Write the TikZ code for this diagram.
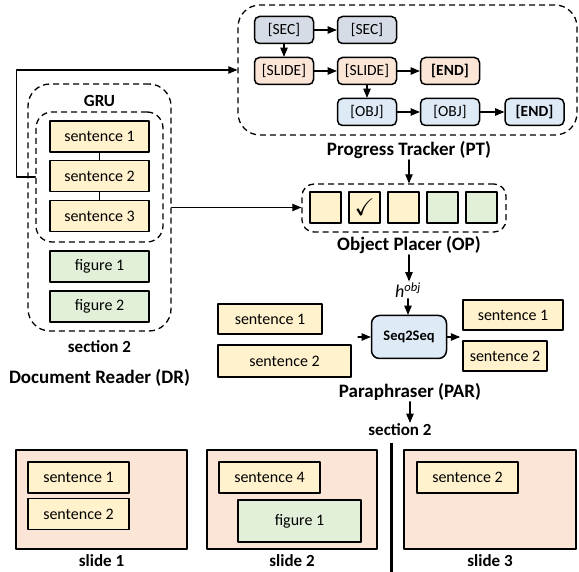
\documentclass[tikz,border=0pt]{standalone}
\usepackage{amssymb}
\usepackage{fontspec}
\setmainfont{Carlito}
\usetikzlibrary{arrows}
\definecolor{sentcol}{HTML}{FFF2CC}
\definecolor{figcol}{HTML}{E2F0D9}
\definecolor{seccol}{HTML}{D6DCE5}
\definecolor{slidecol}{HTML}{FBE5D6}
\definecolor{objcol}{HTML}{DEEBF7}

\begin{document}
\begin{tikzpicture}[line cap=round,line join=round,>=triangle 45,x=1pt,y=-1pt,
  box/.style={draw,line width=1.5pt,inner sep=0pt,font=\fontsize{16}{18}\selectfont},
  sent/.style={box,fill=sentcol,minimum width=99,minimum height=31},
  fig/.style={box,fill=figcol,minimum width=99,minimum height=31},
  tok/.style={box,rounded corners=5pt,minimum width=59,minimum height=27,font=\fontsize{15.5}{17}\selectfont},
  dashbox/.style={draw,line width=1.3pt,dash pattern=on 6pt off 4pt,line cap=butt},
  title/.style={font=\bfseries\fontsize{19}{21}\selectfont,inner sep=1pt},
  lab/.style={font=\bfseries\fontsize{17}{19}\selectfont,inner sep=1pt},
  conn/.style={line width=1.1pt}]
\useasboundingbox (0,0) rectangle (579,572);
% document reader
\node[dashbox,rounded corners=22pt,minimum width=143,minimum height=247] (gru) at (99.5,207.5) {};
\node[dashbox,rounded corners=16pt,minimum width=127,minimum height=130] (grp) at (99.5,177) {};
\node[lab] (gruname) at (99.5,101) {GRU};
\node[sent] (s1) at (99.5,136.5) {sentence 1};
\node[sent] (s2) at (99.5,176) {sentence 2};
\node[sent] (s3) at (99.5,216) {sentence 3};
\draw[conn] (s1) -- (s2) (s2) -- (s3);
\node[fig] (f1) at (99.5,266.5) {figure 1};
\node[fig] (f2) at (99.5,306.5) {figure 2};
\node[lab] (secname) at (99.5,347) {section 2};
\node[title] (drname) at (99.5,378) {Document Reader (DR)};
% progress tracker
\node[dashbox,rounded corners=22pt,minimum width=339,minimum height=130] (pt) at (407.5,70) {};
\node[tok,fill=seccol] (sec1) at (284,30) {[SEC]};
\node[tok,fill=seccol] (sec2) at (367,30) {[SEC]};
\node[tok,fill=slidecol] (slide1) at (284,71) {[SLIDE]};
\node[tok,fill=slidecol] (slide2) at (367,71) {[SLIDE]};
\node[tok,fill=slidecol] (end1) at (450,71) {\bfseries [END]};
\node[tok,fill=objcol] (obj1) at (367,112) {[OBJ]};
\node[tok,fill=objcol] (obj2) at (450,112) {[OBJ]};
\node[tok,fill=objcol] (end2) at (534.5,112) {\bfseries [END]};
\draw[conn,->] (sec1) -- (sec2);
\draw[conn,->] (sec1) -- (slide1);
\draw[conn,->] (slide1) -- (slide2);
\draw[conn,->] (slide2) -- (end1);
\draw[conn,->] (slide2) -- (obj1);
\draw[conn,->] (obj1) -- (obj2);
\draw[conn,->] (obj2) -- (end2);
\draw[conn,->] (grp.west) -- ++(-19,0) |- (pt.west);
\node[title] (ptname) at (409,150) {Progress Tracker (PT)};
% object placer
\node[dashbox,rounded corners=12pt,minimum width=204,minimum height=48] (op) at (404,208) {};
\foreach \i/\c/\t in {0/sentcol/,1/sentcol/$\checkmark$,2/sentcol/,3/figcol/,4/figcol/}
  \node[box,fill=\c,minimum width=31,minimum height=31,font=\fontsize{24}{24}\selectfont] (o\i) at (325.5+39*\i,207.5) {\t};
\draw[conn,->] (gru.east) -- (gru.east -| op.west);
\draw[conn,->] (ptname.south) -- (ptname.south |- op.north);
\node[title] (opname) at (409,245) {Object Placer (OP)};
\node[font=\fontsize{18}{20}\selectfont\itshape,inner sep=1pt] (hobj) at (408,290) {h\textsuperscript{obj}};
\draw[conn,->] (opname.south) -- (opname.south |- hobj.north);
% paraphraser
\node[box,rounded corners=8pt,fill=objcol,minimum width=75,minimum height=43,font=\bfseries\fontsize{14.5}{16}\selectfont] (seq) at (409,337) {Seq2Seq};
\draw[conn,->] (hobj.south) -- (hobj.south |- seq.north);
\node[box,fill=sentcol,minimum width=104,minimum height=30] (ls1) at (270,319) {sentence 1};
\node[box,fill=sentcol,minimum width=133,minimum height=32] (ls2) at (284.5,361) {sentence 2};
\node[box,fill=sentcol,minimum width=100,minimum height=30] (rs1) at (513,315) {sentence 1};
\node[box,fill=sentcol,minimum width=84,minimum height=30] (rs2) at (505,356) {sentence 2};
\coordinate (parin) at (358,337);
\coordinate (parout) at (460,337);
\draw[conn,->] (parin) -- (seq.west);
\draw[conn,->] (seq.east) -- (parout);
\node[title] (parname) at (410,392) {Paraphraser (PAR)};
\node[lab] (outname) at (400,430) {section 2};
\draw[conn,->] (parname.south) -- (parname.south |- outname.north);
% slides
\coordinate (cuttop) at (391,443);
\coordinate (cutbot) at (391,572);
\draw[line width=3pt,line cap=butt] (cuttop) -- (cutbot);
\node[box,fill=slidecol,minimum width=171,minimum height=99] (sl1) at (101.5,499.5) {};
\node[box,fill=slidecol,minimum width=170,minimum height=99] (sl2) at (292,499.5) {};
\node[box,fill=slidecol,minimum width=172,minimum height=99] (sl3) at (490,499.5) {};
\node[box,fill=sentcol,minimum width=101,minimum height=31] (a1) at (78.5,477.5) {sentence 1};
\node[box,fill=sentcol,minimum width=101,minimum height=31] (a2) at (78.5,514) {sentence 2};
\node[box,fill=sentcol,minimum width=101,minimum height=31] (b1) at (269.5,477.5) {sentence 4};
\node[box,fill=figcol,minimum width=123,minimum height=42] (b2) at (299.5,521) {figure 1};
\node[box,fill=sentcol,minimum width=101,minimum height=31] (c1) at (467.5,477.5) {sentence 2};
\node[lab] (sl1name) at (101.5,561) {slide 1};
\node[lab] (sl2name) at (292,561) {slide 2};
\node[lab] (sl3name) at (490,561) {slide 3};
\end{tikzpicture}
\end{document}
